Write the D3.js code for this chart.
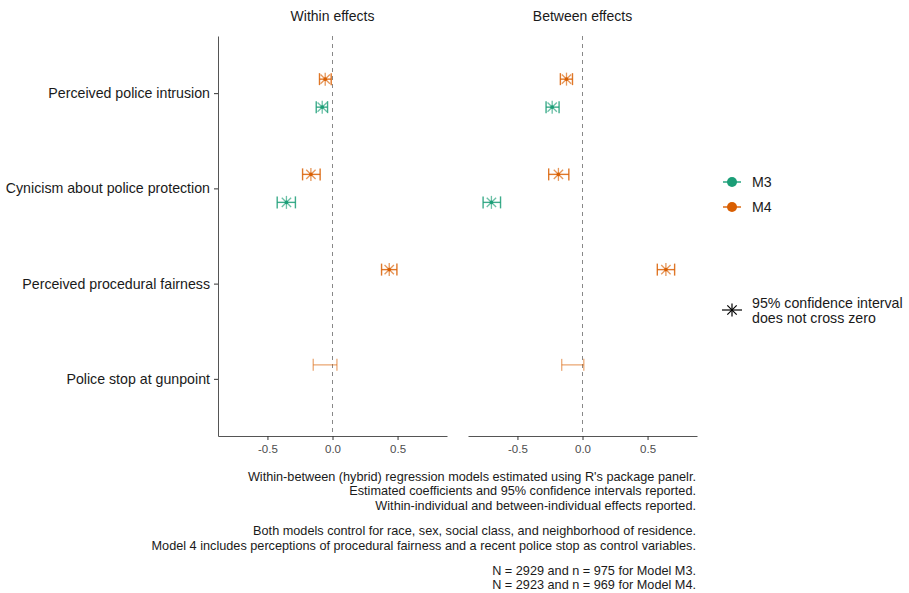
<!DOCTYPE html>
<html><head><meta charset="utf-8">
<script src="https://cdn.jsdelivr.net/npm/d3@7"></script>
<style>body{margin:0;background:#fff}svg{font-family:"Liberation Sans",Arial,sans-serif}</style>
</head><body><svg id="c" width="909" height="593"></svg>
<script>
const categories = ["Perceived police intrusion","Cynicism about police protection","Perceived procedural fairness","Police stop at gunpoint"];
const facets = ["Within effects","Between effects"];
const models = ["M4","M3"];
// [category, estimate, low, high, significant]
const within_M3 = [
  ["Perceived police intrusion", -0.079, -0.125, -0.038, true],
  ["Cynicism about police protection", -0.354, -0.425, -0.285, true]
];
const within_M4 = [
  ["Perceived police intrusion", -0.056, -0.100, -0.010, true],
  ["Cynicism about police protection", -0.166, -0.230, -0.095, true],
  ["Perceived procedural fairness", 0.436, 0.377, 0.495, true],
  ["Police stop at gunpoint", -0.057, -0.148, 0.034, false]
];
const between_M3 = [
  ["Perceived police intrusion", -0.233, -0.280, -0.180, true],
  ["Cynicism about police protection", -0.700, -0.764, -0.630, true]
];
const between_M4 = [
  ["Perceived police intrusion", -0.123, -0.170, -0.077, true],
  ["Cynicism about police protection", -0.185, -0.260, -0.105, true],
  ["Perceived procedural fairness", 0.641, 0.575, 0.708, true],
  ["Police stop at gunpoint", -0.075, -0.160, 0.010, false]
];
const xTicks = [-0.5, 0.0, 0.5];
const caption = [
  "Within-between (hybrid) regression models estimated using R's package panelr.",
  "Estimated coefficients and 95% confidence intervals reported.",
  "Within-individual and between-individual effects reported.",
  "",
  "Both models control for race, sex, social class, and neighborhood of residence.",
  "Model 4 includes perceptions of procedural fairness and a recent police stop as control variables.",
  "",
  "N = 2929 and n = 975 for Model M3.",
  "N = 2923 and n = 969 for Model M4."
];
const colors = {M3:"#1B9E77", M4:"#D95F02"};
const FONT = "Liberation Sans, Arial, sans-serif";

const svg = d3.select("#c");
const topY = 36, bottomY = 436;
const panels = [{x0:218, x1:447, data:{M3:within_M3, M4:within_M4}},
                {x0:468, x1:697, data:{M3:between_M3, M4:between_M4}}];
const y = d3.scalePoint().domain(categories).range([topY,bottomY]).padding(0.6);
const dodge = d3.scalePoint().domain(models).range([-14,14]);

function asterisk(sel, cx, cy, r){
  const r2 = r*0.72;
  sel.append("line").attr("x1",cx).attr("x2",cx).attr("y1",cy-r).attr("y2",cy+r);
  sel.append("line").attr("x1",cx-r2).attr("x2",cx+r2).attr("y1",cy-r2).attr("y2",cy+r2);
  sel.append("line").attr("x1",cx-r2).attr("x2",cx+r2).attr("y1",cy+r2).attr("y2",cy-r2);
}

panels.forEach((p,i)=>{
  const x = d3.scaleLinear().domain([-0.88,0.88]).range([p.x0,p.x1]);
  const g = svg.append("g");
  g.append("text").attr("x",(p.x0+p.x1)/2).attr("y",21).attr("text-anchor","middle")
    .attr("font-size",14).attr("fill","#1a1a1a").text(facets[i]);
  g.append("line").attr("x1",x(0)).attr("x2",x(0)).attr("y1",topY).attr("y2",bottomY)
    .attr("stroke","#888").attr("stroke-dasharray","4,4").attr("stroke-width",1);
  const ax = g.append("g").attr("transform",`translate(0,${bottomY})`)
    .call(d3.axisBottom(x).tickValues(xTicks).tickFormat(d=>d.toFixed(1)).tickSize(4).tickSizeOuter(0));
  ax.select(".domain").attr("stroke","#555");
  ax.selectAll(".tick line").attr("stroke","#333");
  ax.selectAll(".tick text").attr("font-size",11.5).attr("fill","#4d4d4d").attr("font-family",FONT).attr("dy","0.9em");
  if(i===0){
    const ay = g.append("g").attr("transform",`translate(${p.x0},0)`)
      .call(d3.axisLeft(y).tickSize(4).tickSizeOuter(0).tickPadding(4));
    ay.select(".domain").attr("stroke","#555");
    ay.selectAll(".tick line").attr("stroke","#333");
    ay.selectAll(".tick text").attr("font-size",14.2).attr("fill","#1a1a1a").attr("font-family",FONT);
  }
  models.forEach(m=>{
    p.data[m].forEach(d=>{
      const [cat,est,lo,hi,sig] = d;
      const cy = y(cat)+dodge(m);
      const op = sig?0.85:0.5;
      const eg = g.append("g").attr("stroke",colors[m]).attr("stroke-opacity",op).attr("stroke-width",1.4);
      eg.append("line").attr("x1",x(lo)).attr("x2",x(hi)).attr("y1",cy).attr("y2",cy);
      eg.append("line").attr("x1",x(lo)).attr("x2",x(lo)).attr("y1",cy-6).attr("y2",cy+6);
      eg.append("line").attr("x1",x(hi)).attr("x2",x(hi)).attr("y1",cy-6).attr("y2",cy+6);
      if(sig){
        const cx = x(est);
        const sg = g.append("g").attr("stroke",colors[m]).attr("stroke-opacity",0.65).attr("stroke-width",1.3);
        asterisk(sg, cx, cy, 6.5);
        g.append("circle").attr("cx",cx).attr("cy",cy).attr("r",1.8).attr("fill",colors[m]);
      }
    });
  });
});

// legend
const lg = svg.append("g");
[["M3",182],["M4",207]].forEach(([m,ly])=>{
  lg.append("line").attr("x1",723).attr("x2",741).attr("y1",ly).attr("y2",ly).attr("stroke",colors[m]).attr("stroke-width",1.4);
  lg.append("circle").attr("cx",732).attr("cy",ly).attr("r",5).attr("fill",colors[m]);
  lg.append("text").attr("x",752).attr("y",ly).attr("dy","0.36em").attr("font-size",14.2).attr("fill","#1a1a1a").text(m);
});
{
  const sg = lg.append("g").attr("stroke","#000").attr("stroke-width",1.2);
  sg.append("line").attr("x1",722).attr("x2",742).attr("y1",310).attr("y2",310);
  asterisk(sg, 732, 310, 6.5);
  lg.append("text").attr("x",752).attr("y",302.5).attr("dy","0.36em").attr("font-size",14.2).attr("fill","#1a1a1a").text("95% confidence interval");
  lg.append("text").attr("x",752).attr("y",318).attr("dy","0.36em").attr("font-size",14.2).attr("fill","#1a1a1a").text("does not cross zero");
}

// caption
const cg = svg.append("g");
let cyPos = 476.5;
caption.forEach((t,k)=>{
  if(!t){ cyPos += 11.3; return; }
  cg.append("text").attr("x",696).attr("y",cyPos).attr("dy","0.36em").attr("text-anchor","end")
    .attr("font-size",12.7).attr("fill","#1a1a1a").text(t);
  cyPos += 14.3;
});
</script></body></html>
